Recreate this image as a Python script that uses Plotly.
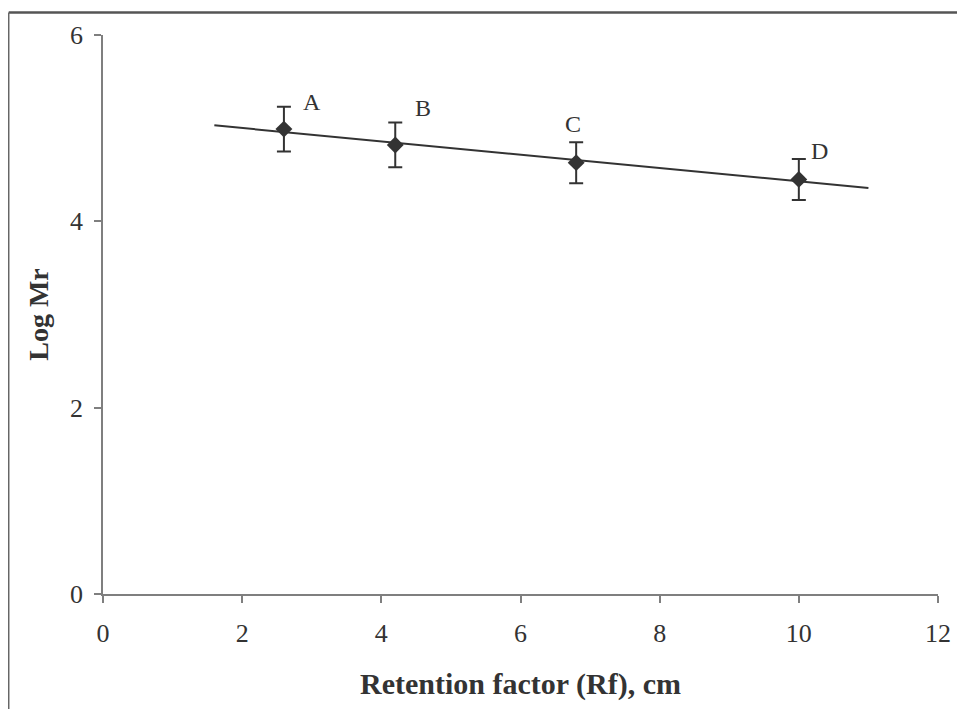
import numpy as np
import plotly.graph_objects as go

# Data
labels = ["A", "B", "C", "D"]
rf = [2.6, 4.2, 6.8, 10.0]
log_mr = [4.99, 4.82, 4.63, 4.45]
err = [0.24, 0.24, 0.22, 0.22]
trend_x = [1.6, 11.0]
label_x = [3.0, 4.6, 6.75, 10.3]
label_y = [5.28, 5.22, 5.04, 4.76]
x_ticks = [0, 2, 4, 6, 8, 10, 12]
y_ticks = [0, 2, 4, 6]

slope, intercept = np.polyfit(rf, log_mr, 1)
trend_y = [slope * x + intercept for x in trend_x]

ink = "#333333"
serif = "Liberation Serif, Times New Roman, serif"

fig = go.Figure()
fig.add_trace(go.Scatter(
    x=trend_x, y=trend_y, mode="lines",
    line=dict(color=ink, width=2), showlegend=False, hoverinfo="skip"))
fig.add_trace(go.Scatter(
    x=rf, y=log_mr, mode="markers",
    marker=dict(symbol="diamond", size=13, color=ink),
    error_y=dict(type="data", array=err, visible=True, color=ink,
                 thickness=2, width=7),
    showlegend=False))

for lx, ly, t in zip(label_x, label_y, labels):
    fig.add_annotation(x=lx, y=ly, text=t, showarrow=False,
                       font=dict(family=serif, size=24, color=ink))

# outer frame (top and left edges visible)
fig.add_shape(type="line", xref="paper", yref="paper",
              x0=-0.1129, x1=1.2, y0=1.0403, y1=1.0403,
              line=dict(color="#555555", width=2.5))
fig.add_shape(type="line", xref="paper", yref="paper",
              x0=-0.1129, x1=-0.1129, y0=1.0403, y1=-0.3,
              line=dict(color="#666666", width=1.5))

axis_common = dict(
    showgrid=False, zeroline=False, showline=True,
    linecolor="#7f7f7f", linewidth=1.5,
    ticks="outside", ticklen=7, tickcolor="#7f7f7f", tickwidth=1.5,
    tickfont=dict(family=serif, size=26, color=ink),
)

fig.update_layout(
    width=957, height=701,
    margin=dict(l=95, r=27, t=27, b=115),
    plot_bgcolor="white", paper_bgcolor="white",
    xaxis=dict(range=[0, 12], tickvals=x_ticks, ticklabelstandoff=8,
               title=dict(text="<b>Retention factor (Rf), cm</b>",
                          font=dict(family=serif, size=30, color=ink),
                          standoff=26),
               **axis_common),
    yaxis=dict(range=[0, 6], tickvals=y_ticks, ticklabelstandoff=6,
               title=dict(text="<b>Log Mr</b>",
                          font=dict(family=serif, size=28, color=ink),
                          standoff=13),
               **axis_common),
)

fig.write_html("out.html")
